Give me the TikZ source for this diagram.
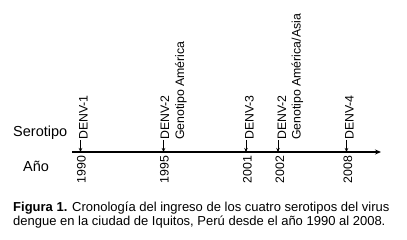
\documentclass[tikz,border=0pt]{standalone}
\usepackage{fontspec}
\setmainfont{Liberation Sans}
\usetikzlibrary{arrows.meta}

\begin{document}
\begin{tikzpicture}[x=1pt, y=-1pt,
	lbl/.style={rotate=90, anchor=base west, inner sep=0pt,
		font=\fontsize{12.3}{14}\selectfont},
	row/.style={anchor=base west, inner sep=0pt, font=\fontsize{14.5}{17}\selectfont},
	axis/.style={line width=1.3pt, -{Stealth[length=6pt, width=5pt]}},
	tick/.style={line width=0.9pt, -{Stealth[length=4pt, width=3.5pt]}}
]
	\useasboundingbox (0,0) rectangle (407,240);
	% row titles
	\node[row] (sero) at (13,136.5) {Serotipo};
	\node[row] (anio) at (23,171.5) {Año};
	% time axis
	\coordinate (start) at (72,152);
	\coordinate (end) at (381,152);
	\draw[axis] (start) -- (end);
	% 1990
	\coordinate (a1990) at (80.5,152);
	\node[lbl] (s1990) at (87.5,140) {DENV-1};
	\node[lbl] (y1990) at (85.5,183.5) {1990};
	\draw[tick] (s1990.west -| a1990) -- (a1990);
	% 1995
	\coordinate (a1995) at (163.5,152);
	\node[lbl] (s1995) at (169,140) {DENV-2};
	\node[lbl] (g1995) at (184,140) {Genotipo América};
	\node[lbl] (y1995) at (168.5,183.5) {1995};
	\draw[tick] (s1995.west -| a1995) -- (a1995);
	% 2001
	\coordinate (a2001) at (246,152);
	\node[lbl] (s2001) at (253.5,140) {DENV-3};
	\node[lbl] (y2001) at (251.5,183.5) {2001};
	\draw[tick] (s2001.west -| a2001) -- (a2001);
	% 2002
	\coordinate (a2002) at (278,152);
	\node[lbl] (s2002) at (286,140) {DENV-2};
	\node[lbl] (g2002) at (300.5,140) {Genotipo América/Asia};
	\node[lbl] (y2002) at (284,183.5) {2002};
	\draw[tick] (s2002.west -| a2002) -- (a2002);
	% 2008
	\coordinate (a2008) at (346.5,152);
	\node[lbl] (s2008) at (353.5,140) {DENV-4};
	\node[lbl] (y2008) at (352,183.5) {2008};
	\draw[tick] (s2008.west -| a2008) -- (a2008);
	% caption
	\node[anchor=north west, inner sep=0pt, align=left,
		font=\fontsize{13}{14}\selectfont] (cap) at (13,201.5)
		{\textbf{Figura 1.} Cronología del ingreso de los cuatro serotipos del virus\\
		dengue en la ciudad de Iquitos, Perú desde el año 1990 al 2008.};
\end{tikzpicture}
\end{document}
